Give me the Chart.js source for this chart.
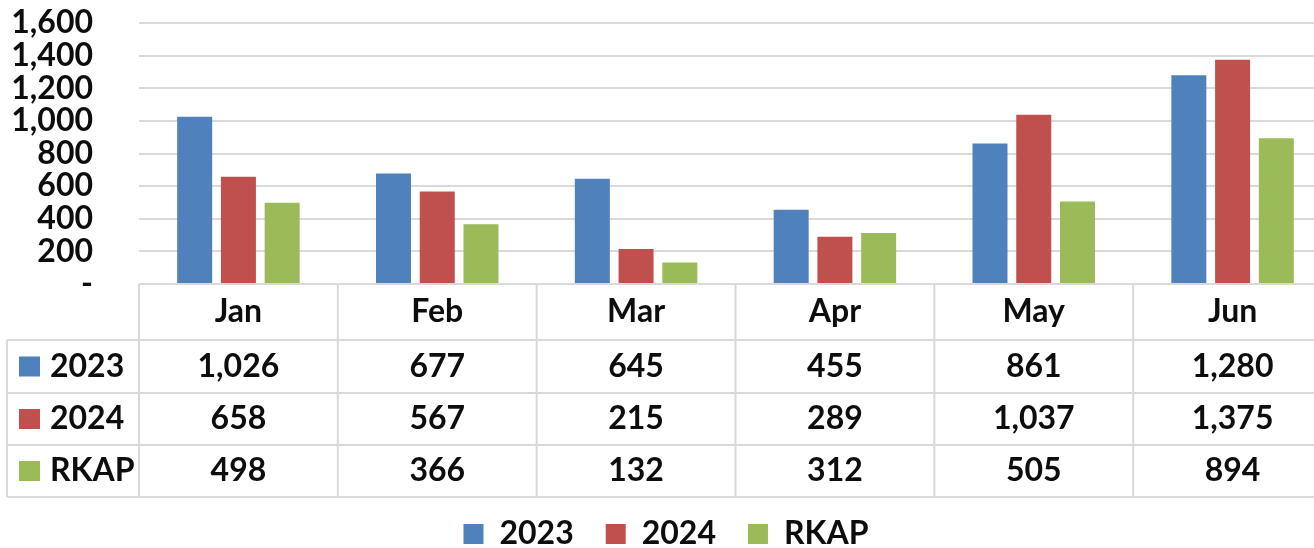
<!DOCTYPE html>
<html>
<head>
<meta charset="utf-8">
<script src="https://cdn.jsdelivr.net/npm/chart.js"></script>
<style>
  html, body { margin: 0; padding: 0; background: #fff; overflow: hidden; }
  #wrap { width: 1314px; height: 548px; overflow: hidden; }
</style>
</head>
<body>
<div id="wrap">
  <canvas id="salesChart" width="1332" height="548"></canvas>
</div>
<script>
const months = ['Jan', 'Feb', 'Mar', 'Apr', 'May', 'Jun'];
const values2023 = [1026, 677, 645, 455, 861, 1280];
const values2024 = [658, 567, 215, 289, 1037, 1375];
const valuesRkap = [498, 366, 132, 312, 505, 894];
const seriesNames = ['2023', '2024', 'RKAP'];
const seriesColors = ['#4f81bd', '#c0504d', '#9bbb59'];

const FONT = 'Lato, "Open Sans", sans-serif';
const FONT_SIZE = 32;
const GRID = '#d9d9d9';
const INK = '#0d0d0d';

function fmt(v) {
    return v === 0 ? '-' : v.toLocaleString('en-US');
}

// data table drawn under the plot, aligned with the category scale
const dataTable = {
    id: 'dataTable',
    afterDraw(chart) {
        const { ctx } = chart;
        const x = chart.scales.x;
        const top = x.top;
        const colW = (x.right - x.left) / months.length;
        const rows = [top, top + 56, top + 109, top + 161, top + 213];
        const leftEdge = 7;

        ctx.save();
        ctx.strokeStyle = GRID;
        ctx.lineWidth = 2;
        ctx.beginPath();
        // horizontal lines
        ctx.moveTo(x.left, rows[0]); ctx.lineTo(x.right, rows[0]);
        for (let r = 1; r < rows.length; r++) {
            ctx.moveTo(leftEdge, rows[r]); ctx.lineTo(x.right, rows[r]);
        }
        // vertical lines
        ctx.moveTo(leftEdge, rows[1]); ctx.lineTo(leftEdge, rows[4]);
        for (let i = 0; i <= months.length; i++) {
            const px = x.left + i * colW;
            ctx.moveTo(px, rows[0]); ctx.lineTo(px, rows[4]);
        }
        ctx.stroke();

        ctx.font = 'bold ' + FONT_SIZE + 'px ' + FONT;
        ctx.fillStyle = INK;
        ctx.textBaseline = 'middle';
        ctx.textAlign = 'center';
        months.forEach((m, i) => {
            ctx.fillText(m, x.getPixelForValue(i), (rows[0] + rows[1]) / 2);
        });

        chart.data.datasets.forEach((ds, r) => {
            const cy = (rows[r + 1] + rows[r + 2]) / 2;
            ctx.fillStyle = ds.backgroundColor;
            ctx.fillRect(19, cy - 10, 21, 20);
            ctx.fillStyle = INK;
            ctx.textAlign = 'left';
            ctx.fillText(ds.label, 50, cy);
            ctx.textAlign = 'center';
            ds.data.forEach((v, i) => {
                ctx.fillText(fmt(v), x.getPixelForValue(i), cy);
            });
        });
        ctx.restore();
    }
};

new Chart(document.getElementById('salesChart'), {
    type: 'bar',
    data: {
        labels: months,
        datasets: [
            { label: seriesNames[0], data: values2023, backgroundColor: seriesColors[0] },
            { label: seriesNames[1], data: values2024, backgroundColor: seriesColors[1] },
            { label: seriesNames[2], data: valuesRkap, backgroundColor: seriesColors[2] }
        ]
    },
    options: {
        responsive: false,
        animation: false,
        barPercentage: 0.8,
        categoryPercentage: 0.66,
        layout: { padding: { top: 23, left: 0, right: 0, bottom: -12 } },
        plugins: {
            tooltip: { enabled: false },
            legend: {
                position: 'bottom',
                labels: {
                    boxWidth: 20,
                    boxHeight: 20,
                    padding: 32,
                    color: INK,
                    font: { family: FONT, size: FONT_SIZE, weight: 'bold' }
                }
            }
        },
        scales: {
            x: {
                grid: { display: false },
                border: { display: false },
                ticks: { display: false },
                afterFit: s => { s.height = 202; }
            },
            y: {
                min: 0,
                max: 1600,
                grid: {
                    color: GRID,
                    lineWidth: 2,
                    drawTicks: true,
                    tickLength: 46,
                    tickColor: 'rgba(0,0,0,0)'
                },
                border: { display: false },
                ticks: {
                    stepSize: 200,
                    autoSkip: false,
                    padding: 0,
                    color: INK,
                    font: { family: FONT, size: FONT_SIZE, weight: 'bold', lineHeight: 1 },
                    callback: v => fmt(v)
                },
                afterFit: s => { s.width = 139; }
            }
        }
    },
    plugins: [dataTable]
});
</script>
</body>
</html>
